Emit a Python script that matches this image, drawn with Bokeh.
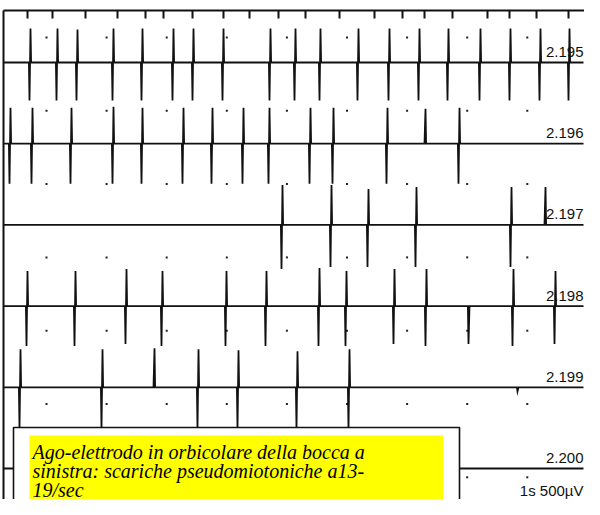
import numpy as np
from bokeh.plotting import figure
from bokeh.models import Range1d
from bokeh.core.properties import value
from bokeh.embed import file_html
from bokeh.resources import INLINE

# ---------------- data ----------------
trace_labels = ["2.195", "2.196", "2.197", "2.198", "2.199", "2.200"]
scale_label = "1s 500µV"

# spike times (time units) and amplitudes (up / down) per sweep
t_2195 = [30, 57, 77, 113, 142, 173, 193, 223, 270, 295, 320, 358, 389, 419, 448, 480, 510, 540, 569]
up_2195 = [34, 34, 33, 34, 34, 34, 34, 34, 34, 34, 34, 34, 34, 34, 34, 34, 34, 34, 34]
dn_2195 = [38, 38, 38, 38, 38, 38, 38, 38, 38, 38, 38, 38, 38, 38, 38, 38, 38, 38, 38]

t_2196 = [10, 32, 71, 113, 142, 183, 212, 243, 269, 310, 333, 387, 425, 459]
up_2196 = [36, 36, 36, 37, 36, 36, 36, 36, 36, 36, 36, 36, 35, 36]
dn_2196 = [40, 40, 40, 40, 40, 40, 40, 40, 40, 40, 40, 40, 0, 40]

t_2197 = [282, 331, 368, 416, 511, 545]
up_2197 = [40, 40, 36, 38, 38, 38]
dn_2197 = [44, 42, 42, 42, 42, 0]

t_2198 = [27, 75, 126, 162, 226, 266, 319, 346, 394, 426, 469, 513, 555]
up_2198 = [35, 35, 37, 35, 35, 35, 38, 35, 37, 37, 0, 37, 35]
dn_2198 = [40, 40, 38, 40, 40, 40, 40, 40, 38, 40, 38, 40, 38]

t_2199 = [20, 102, 154, 198, 238, 297, 349, 518]
up_2199 = [38, 38, 39, 38, 37, 36, 38, 0]
dn_2199 = [42, 42, 0, 42, 42, 42, 42, 4]

t_2200 = []
up_2200 = []
dn_2200 = []

# stimulus / event marks along the top edge
marker_t = [27, 52, 85, 117, 145, 163, 192, 223, 249, 278, 305, 339, 374, 402,
            424, 452, 487, 509, 536, 568]

caption = ["Ago-elettrodo in orbicolare della bocca a",
           "sinistra: scariche pseudomiotoniche a13-",
           "19/sec"]

sweeps = [
    (t_2195, up_2195, dn_2195),
    (t_2196, up_2196, dn_2196),
    (t_2197, up_2197, dn_2197),
    (t_2198, up_2198, dn_2198),
    (t_2199, up_2199, dn_2199),
    (t_2200, up_2200, dn_2200),
]

# ---------------- layout ----------------
W, H = 584, 499
X0, X1 = 3, 583          # sweep start / end
FIRST_BASE, GAP = 62, 81.2
TOP = 10
INK = "#111111"

p = figure(width=W, height=H, x_range=Range1d(0, W), y_range=Range1d(H, 0),
           output_backend="svg", toolbar_location=None,
           x_axis_location=None, y_axis_location=None, min_border=0)
p.grid.visible = False
p.outline_line_color = None
p.background_fill_color = "white"

# frame
p.line([X0, W], [TOP, TOP], line_color=INK, line_width=2)
p.line([X0, X0], [TOP, H], line_color=INK, line_width=2)
p.segment(x0=marker_t, y0=[TOP] * len(marker_t), x1=marker_t, y1=[TOP + 8] * len(marker_t),
          line_color=INK, line_width=2)

# time grid dots
grid_x = np.arange(46, W, 60.1)
for k in range(7):
    gy = 37 + k * 73.3
    p.rect(x=grid_x, y=[gy] * len(grid_x), width=2, height=2, fill_color="#222222",
           line_color=None)

# sweeps
for k, (ts, ups, dns) in enumerate(sweeps):
    base = FIRST_BASE + k * GAP
    xs, vs = [X0], [0]
    for t, u, d in zip(ts, ups, dns):
        xs += [t - 1.6, t - 1.0, t, t + 0.6]
        vs += [0, -d, u, 0]
    xs.append(X1)
    vs.append(0)
    ys = [base - v for v in vs]
    p.line(xs, ys, line_color=INK, line_width=1.8, line_join="miter")
    p.text(x=[583], y=[base - 10.5], text=[trace_labels[k]], text_align="right",
           text_baseline="alphabetic", text_font=value("Liberation Sans"),
           text_font_size="15px", text_color="#111111")

last_base = FIRST_BASE + 5 * GAP
p.text(x=[583], y=[last_base + 22], text=[scale_label], text_align="right",
       text_baseline="alphabetic", text_font=value("Liberation Sans"),
       text_font_size="15px", text_color="#111111")

# caption box
p.quad(left=[13], right=[459], top=[427], bottom=[H + 20], fill_color="white",
       line_color=INK, line_width=1.6)
p.quad(left=[29], right=[443], top=[435], bottom=[H + 5], fill_color="#ffff00",
       line_color=None)
cap_y = [451 + i * 19 for i in range(len(caption))]
p.text(x=[32] * len(caption), y=cap_y, text=caption, text_baseline="alphabetic",
       text_font=value("Liberation Serif"), text_font_style="italic",
       text_font_size="20px", text_color="black")

open("out.html", "w").write(file_html(p, INLINE))
